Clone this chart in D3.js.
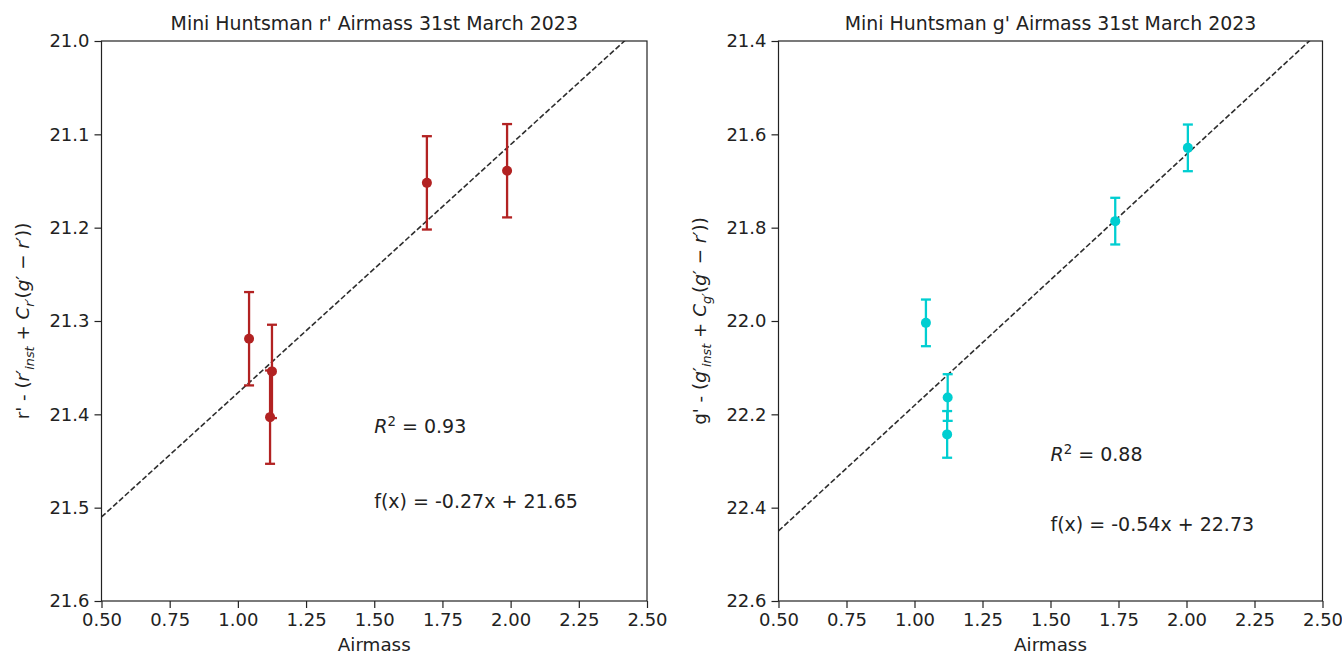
<!DOCTYPE html>
<html>
<head>
<meta charset="utf-8">
<script src="https://cdn.jsdelivr.net/npm/d3@7"></script>
<style>
  html, body { margin: 0; padding: 0; background: #fff; }
  svg { display: block; font-family: "DejaVu Sans", sans-serif; }
</style>
</head>
<body>
<svg id="chart" width="1342" height="655"></svg>
<script>
// ---- Data ----
const rAirmass = [1.041, 1.125, 1.118, 1.693, 1.987];
const rMag     = [21.319, 21.354, 21.403, 21.152, 21.139];
const rErr     = [0.05, 0.05, 0.05, 0.05, 0.05];
const rFit     = { slope: -0.266, intercept: 21.643 };
const rTexts   = ["0.93", "f(x) = -0.27x + 21.65"];

const gAirmass = [1.042, 1.122, 1.120, 1.738, 2.005];
const gMag     = [22.004, 22.164, 22.243, 21.786, 21.629];
const gErr     = [0.05, 0.05, 0.05, 0.05, 0.05];
const gFit     = { slope: -0.538, intercept: 22.719 };
const gTexts   = ["0.88", "f(x) = -0.54x + 22.73"];

const xTicks  = [0.50, 0.75, 1.00, 1.25, 1.50, 1.75, 2.00, 2.25, 2.50];
const rYTicks = [21.0, 21.1, 21.2, 21.3, 21.4, 21.5, 21.6];
const gYTicks = [21.4, 21.6, 21.8, 22.0, 22.2, 22.4, 22.6];

const svg = d3.select("#chart");
const TICK_FS = 18, TITLE_FS = 18.9, ANN_FS = 19, LAB_FS = 18.3;

function panel(opts) {
  const { left, right, top, bottom, xDomain, yDomain, yTicks, xs, ys, errs,
          fit, texts, color, title, annY, labelX, band } = opts;
  const x = d3.scaleLinear().domain(xDomain).range([left, right]);
  const y = d3.scaleLinear().domain(yDomain).range([top, bottom]);
  const g = svg.append("g");

  const clipId = "clip" + band;
  svg.append("clipPath").attr("id", clipId)
    .append("rect").attr("x", left).attr("y", top)
    .attr("width", right - left).attr("height", bottom - top);

  // fit line
  const xl = xDomain;
  g.append("line")
    .attr("clip-path", `url(#${clipId})`)
    .attr("x1", x(xl[0])).attr("y1", y(fit.slope * xl[0] + fit.intercept))
    .attr("x2", x(xl[1])).attr("y2", y(fit.slope * xl[1] + fit.intercept))
    .attr("stroke", "#2e2e2e").attr("stroke-width", 1.6)
    .attr("stroke-dasharray", "5.5,2.4");

  // error bars + points
  const data = xs.map((v, i) => ({ x: v, y: ys[i], e: errs[i] }));
  const eb = g.append("g");
  data.forEach(d => {
    eb.append("line")
      .attr("x1", x(d.x)).attr("x2", x(d.x))
      .attr("y1", y(d.y - d.e)).attr("y2", y(d.y + d.e))
      .attr("stroke", color).attr("stroke-width", 2.3);
    [d.y - d.e, d.y + d.e].forEach(v => {
      eb.append("line")
        .attr("x1", x(d.x) - 5).attr("x2", x(d.x) + 5)
        .attr("y1", y(v)).attr("y2", y(v))
        .attr("stroke", color).attr("stroke-width", 2.3);
    });
  });
  g.selectAll("circle.pt").data(data).enter().append("circle")
    .attr("class", "pt")
    .attr("cx", d => x(d.x)).attr("cy", d => y(d.y)).attr("r", 5)
    .attr("fill", color);

  // axes
  const xAxis = d3.axisBottom(x).tickValues(xTicks).tickFormat(d3.format(".2f"))
    .tickSize(7).tickSizeOuter(0).tickPadding(5);
  const yAxis = d3.axisLeft(y).tickValues(yTicks).tickFormat(d3.format(".1f"))
    .tickSize(7).tickSizeOuter(0).tickPadding(5);
  const gx = g.append("g").attr("transform", `translate(0,${bottom})`).call(xAxis);
  const gy = g.append("g").attr("transform", `translate(${left},0)`).call(yAxis);
  [gx, gy].forEach(a => {
    a.select(".domain").remove();
    a.selectAll(".tick line").attr("stroke", "#222").attr("stroke-width", 1.2);
    a.selectAll(".tick text").attr("fill", "#222").style("font-size", TICK_FS + "px")
      .style("font-family", "DejaVu Sans");
  });

  // frame
  g.append("rect").attr("x", left).attr("y", top)
    .attr("width", right - left).attr("height", bottom - top)
    .attr("fill", "none").attr("stroke", "#222").attr("stroke-width", 1.2);

  // title
  g.append("text").attr("x", (left + right) / 2).attr("y", top - 11.5)
    .attr("text-anchor", "middle").attr("fill", "#222")
    .style("font-size", TITLE_FS + "px").text(title);

  // x label
  g.append("text").attr("x", (left + right) / 2).attr("y", 651)
    .attr("text-anchor", "middle").attr("fill", "#222")
    .style("font-size", LAB_FS + "px").text("Airmass");

  // annotations
  const t1 = g.append("text").attr("x", x(1.5)).attr("y", y(annY[0]))
    .attr("fill", "#222").style("font-size", ANN_FS + "px");
  t1.append("tspan").style("font-style", "italic").text("R");
  t1.append("tspan").attr("dy", -7.5).style("font-size", (ANN_FS * 0.7) + "px").text("2");
  t1.append("tspan").attr("dy", 7.5).text(" = " + texts[0]);
  g.append("text").attr("x", x(1.5)).attr("y", y(annY[1]))
    .attr("fill", "#222").style("font-size", ANN_FS + "px").text(texts[1]);

  // y label
  const yl = g.append("text")
    .attr("transform", `translate(${labelX},${(top + bottom) / 2}) rotate(-90)`)
    .attr("text-anchor", "middle").attr("fill", "#222")
    .style("font-size", LAB_FS + "px");
  const b = band;
  const sub = LAB_FS * 0.7;
  yl.append("tspan").text(b + "' - (");
  yl.append("tspan").style("font-style", "italic").text(b);
  yl.append("tspan").text("′");
  yl.append("tspan").attr("dy", 4.5).style("font-style", "italic").style("font-size", sub + "px").text("inst");
  yl.append("tspan").attr("dy", -4.5).text(" + ");
  yl.append("tspan").style("font-style", "italic").text("C");
  yl.append("tspan").attr("dy", 4.5).style("font-style", "italic").style("font-size", sub + "px").text(b + "′");
  yl.append("tspan").attr("dy", -4.5).text("(");
  yl.append("tspan").style("font-style", "italic").text("g");
  yl.append("tspan").text("′ − ");
  yl.append("tspan").style("font-style", "italic").text("r");
  yl.append("tspan").text("′))");
}

panel({
  left: 101.5, right: 647, top: 41, bottom: 601,
  xDomain: [0.5, 2.5], yDomain: [21.0, 21.6], yTicks: rYTicks,
  xs: rAirmass, ys: rMag, errs: rErr, fit: rFit, texts: rTexts,
  color: "#b22222", title: "Mini Huntsman r' Airmass 31st March 2023",
  annY: [21.42, 21.5], labelX: 29, band: "r"
});
panel({
  left: 778.5, right: 1322.5, top: 41, bottom: 601,
  xDomain: [0.5, 2.5], yDomain: [21.4, 22.6], yTicks: gYTicks,
  xs: gAirmass, ys: gMag, errs: gErr, fit: gFit, texts: gTexts,
  color: "#00ced1", title: "Mini Huntsman g' Airmass 31st March 2023",
  annY: [22.3, 22.45], labelX: 706, band: "g"
});
</script>
</body>
</html>
